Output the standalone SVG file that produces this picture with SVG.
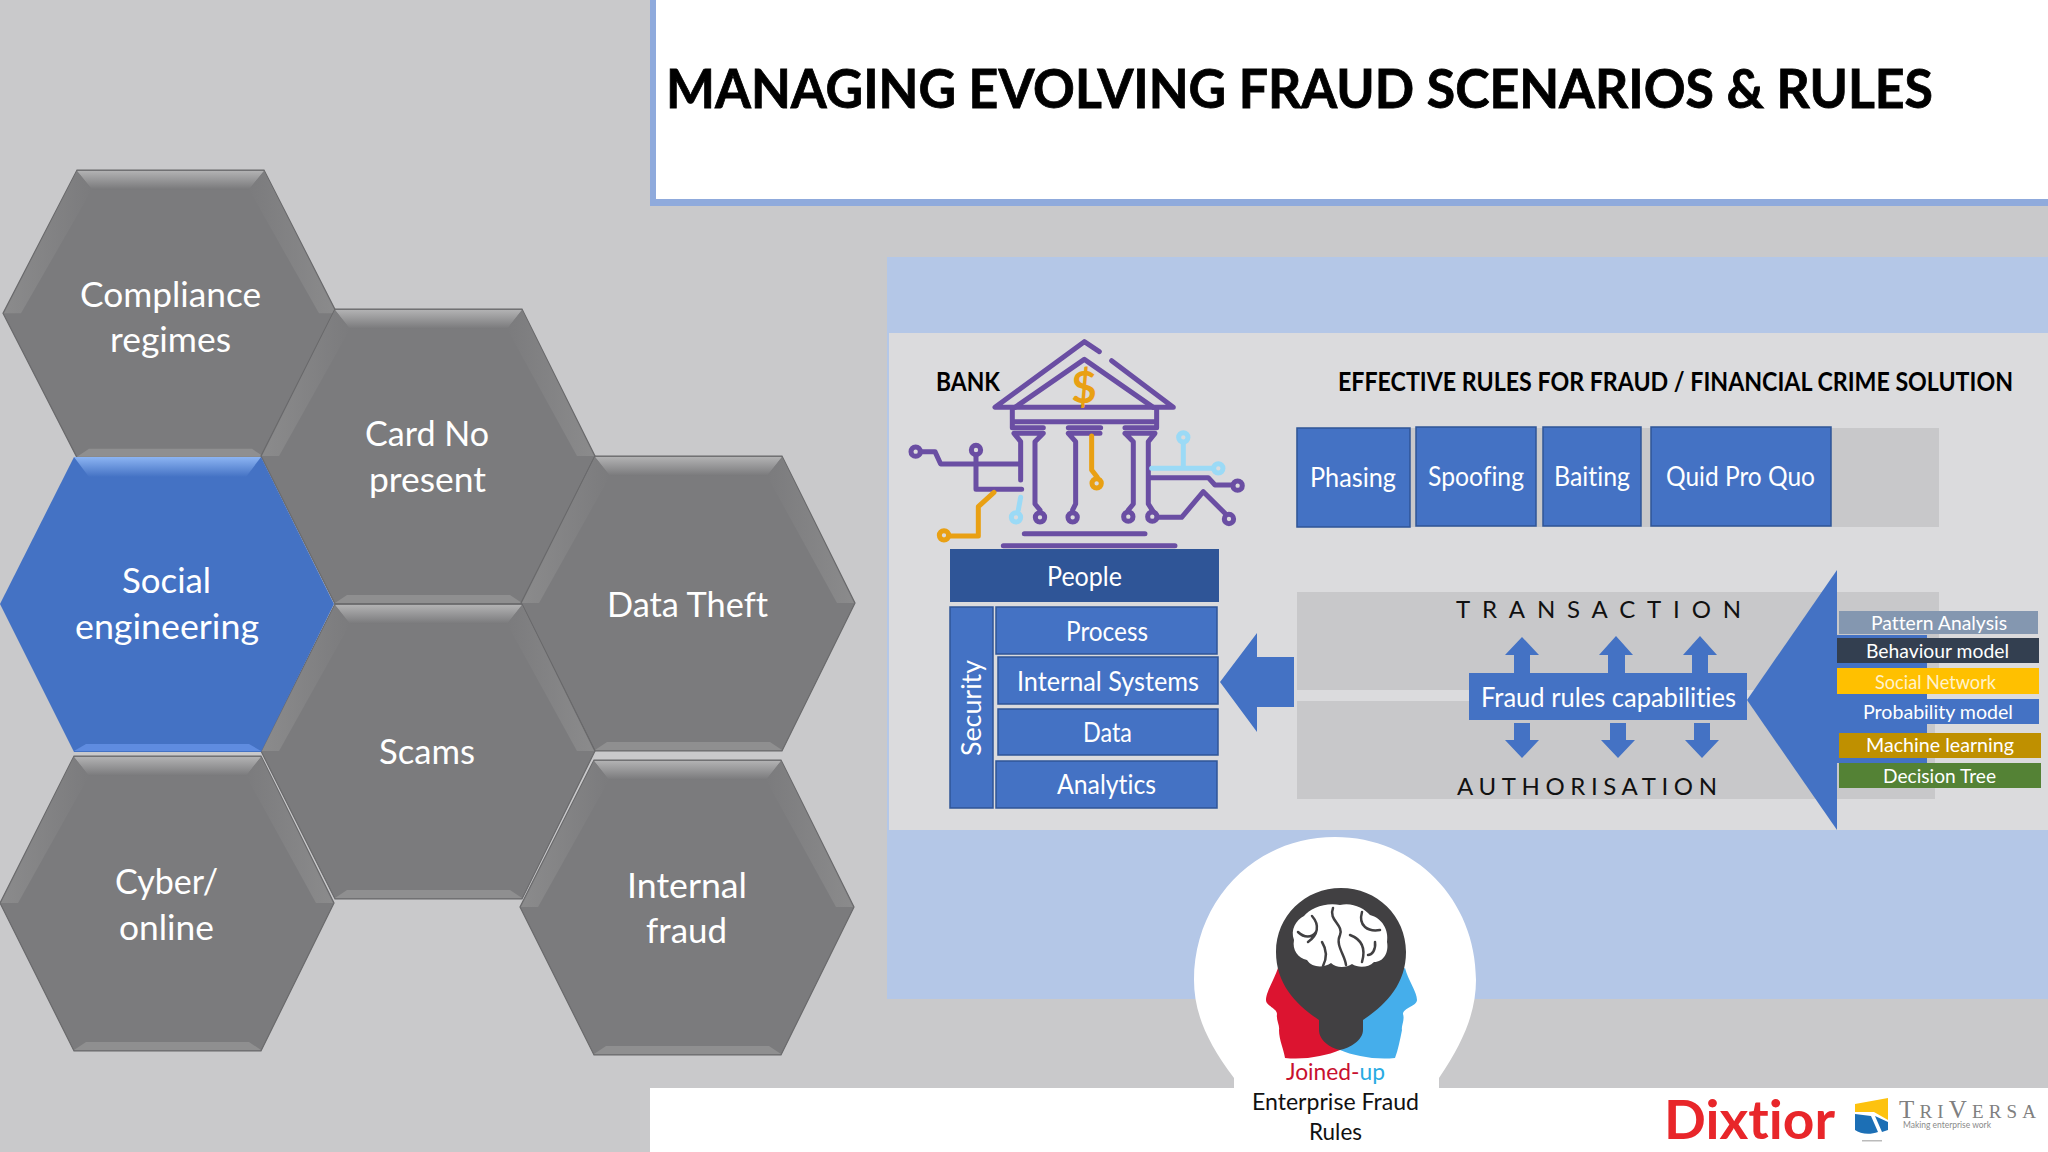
<svg xmlns="http://www.w3.org/2000/svg" width="2048" height="1152" viewBox="0 0 2048 1152">
<style>
text{font-family:Lato,"Liberation Sans",sans-serif;font-variant-ligatures:none}
.hx{font-size:35.5px;fill:#fff}
.b{fill:#4472c4}
.bs{fill:#4472c4;stroke:#2f5597;stroke-width:1.5}
.w{fill:#fff;font-size:26px}
.s{fill:#fff;font-size:20px}
.t{fill:#000;font-weight:700}
.k{fill:#111;font-size:24px}
.pu{fill:none;stroke:#6a4ea3;stroke-width:15;stroke-linecap:round;stroke-linejoin:round}
.or{fill:none;stroke:#e9a013;stroke-width:15;stroke-linecap:round;stroke-linejoin:round}
.lb{fill:none;stroke:#9bdaf6;stroke-width:15;stroke-linecap:round;stroke-linejoin:round}
</style>
<defs>
<linearGradient id="tg" x1="0" y1="0" x2="0" y2="1"><stop offset="0" stop-color="#b2b2b3"/><stop offset="1" stop-color="#79797b"/></linearGradient>
<linearGradient id="tb" x1="0" y1="0" x2="0" y2="1"><stop offset="0" stop-color="#8cb4f2"/><stop offset="1" stop-color="#4472c4"/></linearGradient>
<linearGradient id="lg" x1="0" y1="0" x2="1" y2="0"><stop offset="0" stop-color="#8b8b8c"/><stop offset="1" stop-color="#7b7b7d"/></linearGradient>
<linearGradient id="rg" x1="1" y1="0" x2="0" y2="0"><stop offset="0" stop-color="#8b8b8c"/><stop offset="1" stop-color="#7b7b7d"/></linearGradient>
<g id="hexG">
<polygon points="74,0 261,0 334,147 261,295 74,295 0,147" fill="#7b7b7d" stroke="#69696b" stroke-width="1.2"/>
<polygon points="74,1 261,1 246,20 89,20" fill="url(#tg)"/>
<polygon points="74,1 89,20 18,147 1,147" fill="url(#lg)"/>
<polygon points="261,1 246,20 316,147 333,147" fill="url(#rg)"/>
<polygon points="74,294 86,286 249,286 261,294" fill="#8f8f90"/>
</g>
<g id="hexB">
<polygon points="74,0 261,0 334,147 261,295 74,295 0,147" fill="#4472c4"/>
<polygon points="74,0 261,0 246,20 89,20" fill="url(#tb)"/>
<polygon points="74,294 86,287 249,287 261,294" fill="#5f8ce0"/>
</g>
</defs>

<rect width="2048" height="1152" fill="#c9c9cb"/>
<g id="title">
<rect x="650" y="0" width="1398" height="206" fill="#8faadc"/>
<rect x="656" y="0" width="1392" height="199" fill="#fff"/>
<text x="666" y="108" textLength="1267" lengthAdjust="spacingAndGlyphs" class="t" stroke="#000" stroke-width=".8" style="font-size:54px">MANAGING EVOLVING FRAUD SCENARIOS &amp; RULES</text>
</g>
<rect x="650" y="1088" width="1398" height="64" fill="#fff"/>
<rect x="887" y="257" width="1161" height="742" fill="#b4c7e7"/>
<rect x="889" y="333" width="1159" height="497" fill="#dbdbdd"/>

<g id="hex-compliance"><use href="#hexG" transform="translate(3,170) scale(1,.975)"/>
<text x="80" y="307" textLength="181" lengthAdjust="spacingAndGlyphs" class="hx">Compliance</text><text x="110" y="352" textLength="121" lengthAdjust="spacingAndGlyphs" class="hx">regimes</text></g>
<g id="hex-card"><use href="#hexG" transform="translate(261,309)"/>
<text x="365" y="446" textLength="124" lengthAdjust="spacingAndGlyphs" class="hx">Card No</text><text x="369" y="492" textLength="117" lengthAdjust="spacingAndGlyphs" class="hx">present</text></g>
<g id="hex-data"><use href="#hexG" transform="translate(521,456)"/>
<text x="607" y="617" textLength="161" lengthAdjust="spacingAndGlyphs" class="hx">Data Theft</text></g>
<g id="hex-scams"><use href="#hexG" transform="translate(261,604)"/>
<text x="379" y="764" textLength="96" lengthAdjust="spacingAndGlyphs" class="hx">Scams</text></g>
<g id="hex-cyber"><use href="#hexG" transform="translate(0,756)"/>
<text x="115" y="894" textLength="103" lengthAdjust="spacingAndGlyphs" class="hx">Cyber/</text><text x="119" y="940" textLength="95" lengthAdjust="spacingAndGlyphs" class="hx">online</text></g>
<g id="hex-internal"><use href="#hexG" transform="translate(520,760)"/>
<text x="627" y="898" textLength="120" lengthAdjust="spacingAndGlyphs" class="hx">Internal</text><text x="646" y="943" textLength="81" lengthAdjust="spacingAndGlyphs" class="hx">fraud</text></g>
<g id="hex-social"><use href="#hexB" transform="translate(0,457)"/>
<text x="122" y="593" textLength="89" lengthAdjust="spacingAndGlyphs" class="hx">Social</text><text x="75" y="639" textLength="184" lengthAdjust="spacingAndGlyphs" class="hx">engineering</text></g>

<g id="bank">
<g transform="translate(890,330) scale(.3333)">
<path class="pu" d="M628,65 L583,35 L315,232 H850 L665,92"/>
<path class="pu" d="M375,232 L583,88 L790,232"/>
<path class="pu" d="M367,240 V293 H460 M367,275 H800 M800,240 V293 H705 M535,293 H632"/>
<path class="pu" d="M372,310 H460 L435,335 V522 L450,540 M372,310 L392,335 V450"/>
<path class="pu" d="M535,310 H630 M535,310 L557,335 V522 L548,540"/>
<path class="pu" d="M705,310 H795 L775,335 V522 L790,545 M705,310 L730,335 V522 L715,540"/>
<circle class="pu" cx="450" cy="562" r="14"/><circle class="pu" cx="548" cy="562" r="14"/><circle class="pu" cx="715" cy="560" r="14"/><circle class="pu" cx="787" cy="560" r="14"/>
<path class="pu" d="M802,562 H875 L940,485 L1005,550"/><circle class="pu" cx="1017" cy="567" r="14"/>
<path class="pu" d="M780,443 H955 L975,465 H1028"/><circle class="pu" cx="1043" cy="467" r="14"/>
<circle class="pu" cx="77" cy="365" r="14"/><path class="pu" d="M92,365 H135 L152,402 H390"/>
<circle class="pu" cx="258" cy="360" r="14"/><path class="pu" d="M258,375 V478 H395"/>
<path class="pu" d="M403,611 H765 M340,647 H855"/>
<path class="or" d="M605,318 V420 L622,442"/><circle class="or" cx="620" cy="460" r="14"/>
<circle class="or" cx="162" cy="616" r="14"/><path class="or" d="M176,618 H265 V530 L312,487"/>
<path class="lb" d="M785,415 H970 M880,415 V340"/><circle class="lb" cx="985" cy="415" r="14"/><circle class="lb" cx="880" cy="322" r="14"/>
<path class="lb" d="M392,502 L385,540"/><circle class="lb" cx="378" cy="562" r="14"/>
</g>
<text x="1084" y="403" text-anchor="middle" style="font-size:44px;fill:#e9a013;font-weight:700">$</text>
<text x="936" y="391" textLength="64" lengthAdjust="spacingAndGlyphs" class="t" style="font-size:27px">BANK</text>
</g>

<g id="stack">
<g id="people"><rect x="950" y="549" width="269" height="53" fill="#2f5597"/><text x="1047" y="586" textLength="75" lengthAdjust="spacingAndGlyphs" class="w">People</text></g>
<g id="security"><rect x="950" y="607" width="43" height="201" class="bs"/><text x="981" y="756" transform="rotate(-90 981 756)" textLength="96" lengthAdjust="spacingAndGlyphs" class="w">Security</text></g>
<g id="process"><rect x="996" y="607" width="221" height="47" class="bs"/><text x="1066" y="641" textLength="82" lengthAdjust="spacingAndGlyphs" class="w">Process</text></g>
<g id="internal-systems"><rect x="998" y="657" width="220" height="47" class="bs"/><text x="1017" y="691" textLength="182" lengthAdjust="spacingAndGlyphs" class="w">Internal Systems</text></g>
<g id="data"><rect x="998" y="709" width="220" height="46" class="bs"/><text x="1083" y="742" textLength="49" lengthAdjust="spacingAndGlyphs" class="w">Data</text></g>
<g id="analytics"><rect x="996" y="761" width="221" height="47" class="bs"/><text x="1057" y="794" textLength="99" lengthAdjust="spacingAndGlyphs" class="w">Analytics</text></g>
</g>

<text id="heading" transform="translate(1338,391) scale(.75,1)" textLength="900" lengthAdjust="spacingAndGlyphs" class="t" style="font-size:27px">EFFECTIVE RULES FOR FRAUD / FINANCIAL CRIME SOLUTION</text>

<g id="scenarios">
<rect x="1296" y="428" width="643" height="99" fill="#c8c8ca"/>
<g id="phasing"><rect x="1297" y="428" width="113" height="99" class="bs"/><text x="1310" y="487" textLength="86" lengthAdjust="spacingAndGlyphs" class="w">Phasing</text></g>
<g id="spoofing"><rect x="1416" y="427" width="120" height="99" class="bs"/><text x="1428" y="486" textLength="96" lengthAdjust="spacingAndGlyphs" class="w">Spoofing</text></g>
<g id="baiting"><rect x="1543" y="427" width="98" height="99" class="bs"/><text x="1554" y="486" textLength="76" lengthAdjust="spacingAndGlyphs" class="w">Baiting</text></g>
<g id="quid"><rect x="1651" y="427" width="180" height="99" class="bs"/><text x="1666" y="486" textLength="149" lengthAdjust="spacingAndGlyphs" class="w">Quid Pro Quo</text></g>
</g>

<rect x="1297" y="592" width="642" height="98" fill="#c8c8ca"/>
<rect x="1297" y="701" width="638" height="98" fill="#c8c8ca"/>
<text x="1456" y="618" textLength="285" class="k">TRANSACTION</text>
<text x="1457" y="795" textLength="260" class="k">AUTHORISATION</text>

<g id="connectors">
<polygon class="b" points="1220,682 1257,633 1257,657 1294,657 1294,707 1257,707 1257,732"/>
<polygon class="b" points="1522,637 1539,655 1530,655 1530,675 1514,675 1514,655 1505,655"/>
<polygon class="b" points="1616,636 1633,655 1625,655 1625,675 1608,675 1608,655 1599,655"/>
<polygon class="b" points="1700,636 1717,655 1708,655 1708,675 1692,675 1692,655 1683,655"/>
<polygon class="b" points="1522,758 1539,740 1530,740 1530,723 1514,723 1514,740 1505,740"/>
<polygon class="b" points="1618,758 1635,740 1626,740 1626,723 1610,723 1610,740 1601,740"/>
<polygon class="b" points="1702,758 1719,740 1710,740 1710,723 1694,723 1694,740 1685,740"/>
<polygon class="b" points="1747,700 1837,570 1837,830"/>
<rect class="b" x="1837" y="635" width="90" height="128"/>
</g>

<g id="fraud-capabilities"><rect x="1469" y="673" width="278" height="47" class="b"/><text x="1481" y="707" textLength="255" lengthAdjust="spacingAndGlyphs" class="w">Fraud rules capabilities</text></g>

<g id="models">
<g id="m1"><rect x="1839" y="611" width="199" height="23" fill="#8497b0"/><text x="1871" y="630" textLength="136" lengthAdjust="spacingAndGlyphs" class="s">Pattern Analysis</text></g>
<g id="m2"><rect x="1837" y="638" width="202" height="25" fill="#333f50"/><text x="1866" y="658" textLength="143" lengthAdjust="spacingAndGlyphs" class="s">Behaviour model</text></g>
<g id="m3"><rect x="1837" y="668" width="202" height="26" fill="#ffc000"/><text x="1875" y="689" textLength="121" lengthAdjust="spacingAndGlyphs" class="s" style="fill:#fff2cc">Social Network</text></g>
<g id="m4"><rect x="1837" y="699" width="202" height="25" fill="#4472c4"/><text x="1863" y="719" textLength="150" lengthAdjust="spacingAndGlyphs" class="s">Probability model</text></g>
<g id="m5"><rect x="1839" y="733" width="202" height="25" fill="#bf9000"/><text x="1866" y="752" textLength="148" lengthAdjust="spacingAndGlyphs" class="s">Machine learning</text></g>
<g id="m6"><rect x="1839" y="763" width="202" height="25" fill="#548235"/><text x="1883" y="783" textLength="113" lengthAdjust="spacingAndGlyphs" class="s">Decision Tree</text></g>
</g>

<g id="joined-up">
<path fill="#fff" d="M1234,1090 V1078 C1205,1040 1194,1010 1194,980 C1194,900 1255,837 1335,837 C1415,837 1476,900 1476,980 C1476,1010 1465,1040 1439,1078 V1090 Z"/>
<path fill="#dc1430" d="M1278,968 C1274,980 1266,992 1266,1000 C1266,1006 1277,1008 1277,1014 C1276,1020 1280,1026 1279,1030 C1279,1040 1284,1050 1285,1058 C1305,1060 1326,1056 1340,1050 L1340,1000 Z"/>
<path fill="#45aeeb" d="M1405,968 C1408,980 1417,992 1417,1000 C1417,1006 1403,1008 1403,1014 C1405,1020 1401,1026 1402,1030 C1400,1040 1398,1050 1395,1058 C1375,1060 1354,1056 1340,1050 L1340,1000 Z"/>
<path fill="#414042" d="M1341,888 C1377,888 1406,916 1406,952 C1406,985 1385,1005 1363,1020 L1363,1030 C1363,1040 1350,1048 1340,1050 C1330,1048 1319,1040 1319,1030 L1319,1020 C1297,1005 1276,985 1276,952 C1276,916 1305,888 1341,888 Z"/>
<path fill="#fff" d="M1340,905 C1352,902 1364,908 1370,915 C1382,918 1389,930 1387,942 C1389,952 1384,962 1374,962 C1368,968 1358,968 1352,964 C1346,968 1336,968 1331,963 C1324,968 1312,968 1307,960 C1298,958 1292,950 1294,940 C1290,930 1296,920 1304,916 C1310,908 1326,902 1340,905 Z"/>
<path fill="none" stroke="#414042" stroke-width="2.5" stroke-linecap="round" d="M1333,908 C1328,920 1344,925 1340,935 C1335,945 1345,955 1346,965 M1312,916 C1320,925 1318,935 1308,942 M1362,912 C1358,926 1368,932 1380,930 M1322,942 C1327,950 1327,958 1323,966 M1350,935 C1358,938 1367,945 1362,962 M1298,932 C1304,938 1312,938 1316,932 M1375,942 C1376,950 1372,955 1368,955"/>
<text x="1286" y="1080" textLength="99" lengthAdjust="spacingAndGlyphs" style="font-size:23px;fill:#c8102e">Joined-<tspan fill="#29abe2">up</tspan></text>
<text x="1252" y="1110" textLength="167" lengthAdjust="spacingAndGlyphs" style="font-size:23px;fill:#111">Enterprise Fraud</text>
<text x="1309" y="1140" textLength="53" lengthAdjust="spacingAndGlyphs" style="font-size:23px;fill:#111">Rules</text>
</g>

<g id="logos">
<text x="1664" y="1139" textLength="171" lengthAdjust="spacingAndGlyphs" style="font-size:54px;font-weight:700;fill:#e8262a">Dixtior</text>
<polygon points="1855,1104 1888,1098 1888,1120 1874,1112 1855,1112" fill="#fdc20f"/>
<path d="M1855,1114 L1871,1116 L1878,1132 C1870,1135 1860,1134 1855,1130 Z M1875,1116 L1888,1122 V1130 L1882,1132 Z" fill="#1c6fb5"/>
<rect x="1862" y="1140" width="20" height="1.5" fill="#bbb"/>
<text x="1899" y="1118" textLength="137" style="font-family:'Liberation Serif',serif;font-size:25px;fill:#808080">T<tspan style="font-size:19px">RI</tspan>V<tspan style="font-size:19px">ERSA</tspan></text>
<text x="1903" y="1128" textLength="88" lengthAdjust="spacingAndGlyphs" style="font-size:9.5px;fill:#8a8a8a">Making enterprise work</text>
</g>
</svg>
